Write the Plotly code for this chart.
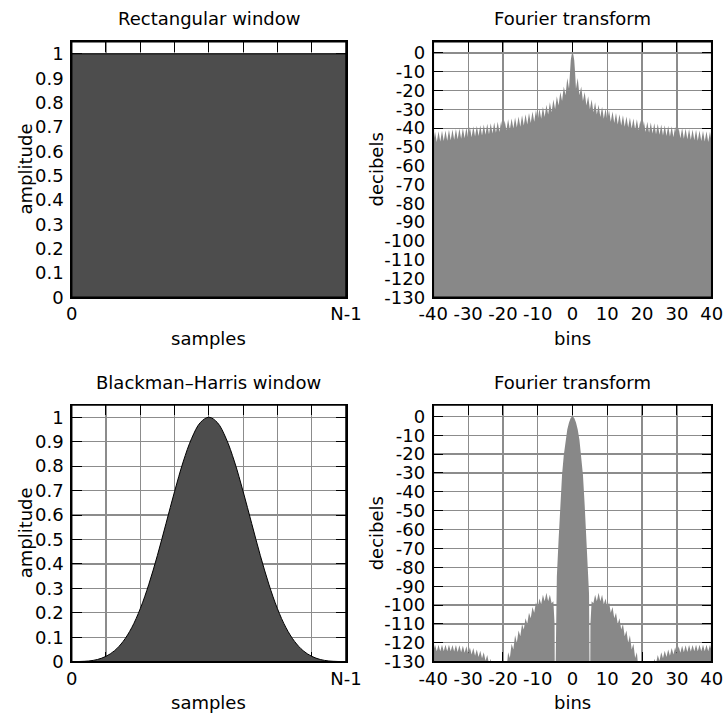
import plotly.graph_objects as go

# ---------------- data ----------------
# window sample positions as a fraction of (N-1)
RECT_SAMPLES = [0.0, 1.0]
RECT_AMPLITUDE = [1.0, 1.0]

BH_SAMPLES = [k / 32 for k in range(33)]
BH_AMPLITUDE = [0.000, 0.001, 0.003, 0.009, 0.022, 0.045, 0.083, 0.139, 0.217,
                0.317, 0.435, 0.565, 0.696, 0.817, 0.914, 0.978, 1.000, 0.978,
                0.914, 0.817, 0.696, 0.565, 0.435, 0.317, 0.217, 0.139, 0.083,
                0.045, 0.022, 0.009, 0.003, 0.001, 0.000]

# Rectangular window spectrum (positive half, mirrored for negative bins)
RECT_MAIN_BINS = [0.0, 0.25, 0.5, 0.75]
RECT_MAIN_DB = [0.0, -0.9, -3.9, -10.5]
RECT_NULL_BINS = list(range(1, 41))
RECT_NULL_DB = [-19.0, -22.5, -25.5, -28.0, -30.0, -31.5, -32.8, -34.0, -35.0, -35.8,
                -36.6, -37.3, -38.0, -38.6, -39.2, -39.7, -40.2, -40.7, -41.1, -41.6,
                -42.0, -42.4, -42.8, -43.2, -43.5, -43.9, -44.2, -44.5, -44.8, -45.1,
                -45.4, -45.7, -45.9, -46.2, -46.4, -46.7, -46.9, -47.1, -47.4, -47.6]
RECT_PEAK_BINS = [k + 0.5 for k in range(1, 40)]
RECT_PEAK_DB = [-13.3, -17.9, -20.8, -23.0, -24.8, -26.2, -27.5, -28.6, -29.5, -30.4,
                -31.2, -31.9, -32.6, -33.2, -33.8, -34.3, -34.8, -35.3, -35.8, -36.2,
                -36.6, -37.0, -37.4, -37.7, -38.1, -38.4, -38.7, -39.0, -39.3, -39.6,
                -39.9, -40.2, -40.4, -40.7, -40.9, -41.2, -41.4, -41.6, -41.9]

# Blackman-Harris spectrum (positive half)
BH_MAIN_BINS = [0.0, 0.5, 1.0, 1.5, 2.0, 2.5, 3.0, 3.5, 4.0, 4.5, 4.75, 4.9, 5.05, 5.15]
BH_MAIN_DB = [0.0, -0.9, -3.3, -7.0, -12.5, -20.5, -31.0, -47.0, -65.5, -85.0, -94.0,
              -135.0, -160.0, -110.0]
BH_SIDE_PEAK_BINS = [k + 0.5 for k in range(5, 19)]
BH_SIDE_PEAK_DB = [-98.0, -94.5, -93.5, -94.5, -96.5, -98.5, -101.0, -104.0, -107.0,
                   -110.0, -113.5, -116.0, -120.5, -125.0]
BH_SIDE_NULL_BINS = list(range(6, 19))
BH_SIDE_NULL_DB = [-99.0, -98.0, -98.0, -99.5, -101.5, -104.0, -107.0, -110.0, -113.0,
                   -116.5, -120.0, -123.5, -128.0]
BH_GAP_BINS = [19.0, 19.2, 23.0, 23.1]
BH_GAP_DB = [-135.0, -160.0, -160.0, -135.0]
BH_OUTER_PEAK_BINS = [k + 0.5 for k in range(23, 40)]
BH_OUTER_PEAK_DB = [-128.5, -126.5, -125.0, -124.2, -123.5, -122.8, -122.3, -121.8, -121.5,
                    -121.3, -121.2, -121.1, -121.0, -121.0, -121.0, -121.0, -121.0]
BH_OUTER_NULL_BINS = list(range(24, 41))
BH_OUTER_NULL_DB = [-131.0, -129.5, -128.2, -127.5, -126.8, -126.2, -125.7, -125.3, -125.0,
                    -124.8, -124.6, -124.5, -124.4, -124.4, -124.4, -124.4, -124.4]

AMP_TICKS = [0, 0.1, 0.2, 0.3, 0.4, 0.5, 0.6, 0.7, 0.8, 0.9, 1]
AMP_LABELS = ["0", "0.1", "0.2", "0.3", "0.4", "0.5", "0.6", "0.7", "0.8", "0.9", "1"]
SAMPLE_TICKS = [k / 8 for k in range(9)]
SAMPLE_LABELS = ["0", "", "", "", "", "", "", "", "N-1"]
DB_TICKS = [0, -10, -20, -30, -40, -50, -60, -70, -80, -90, -100, -110, -120, -130]
DB_LABELS = ["0", "-10", "-20", "-30", "-40", "-50", "-60", "-70", "-80", "-90",
             "-100", "-110", "-120", "-130"]
BIN_TICKS = [-40, -30, -20, -10, 0, 10, 20, 30, 40]
BIN_LABELS = ["-40", "-30", "-20", "-10", "0", "10", "20", "30", "40"]

TITLES = ["Rectangular window", "Fourier transform",
          "Blackman\u2013Harris window", "Fourier transform"]

# ---------------- helpers ----------------
def merge(*pairs):
    pts = []
    for bins, dbs in pairs:
        pts.extend(zip(bins, dbs))
    pts.sort(key=lambda p: p[0])
    return [p[0] for p in pts], [p[1] for p in pts]


def mirror(xs, ys):
    fx = [-x for x in reversed(xs[1:])] + xs
    fy = list(reversed(ys[1:])) + ys
    return fx, fy


def polygon(fx, fy, floor=-300):
    return fx + [fx[-1], fx[0]], fy + [floor, floor]


rx, ry = mirror(*merge((RECT_MAIN_BINS, RECT_MAIN_DB), (RECT_NULL_BINS, RECT_NULL_DB),
                       (RECT_PEAK_BINS, RECT_PEAK_DB)))
bx, by = mirror(*merge((BH_MAIN_BINS, BH_MAIN_DB), (BH_SIDE_PEAK_BINS, BH_SIDE_PEAK_DB),
                       (BH_SIDE_NULL_BINS, BH_SIDE_NULL_DB), (BH_GAP_BINS, BH_GAP_DB),
                       (BH_OUTER_PEAK_BINS, BH_OUTER_PEAK_DB),
                       (BH_OUTER_NULL_BINS, BH_OUTER_NULL_DB)))

DARK = "#4d4d4d"
MID = "#888888"
GRID = "#8c8c8c"
FONT = "DejaVu Sans"

fig = go.Figure()

fig.add_trace(go.Scatter(x=RECT_SAMPLES, y=RECT_AMPLITUDE, mode="lines", fill="tozeroy",
                         fillcolor=DARK, line=dict(color="black", width=1),
                         xaxis="x", yaxis="y", hoverinfo="skip"))
px, py = polygon(rx, ry)
fig.add_trace(go.Scatter(x=px, y=py, mode="lines", fill="toself", fillcolor=MID,
                         line=dict(width=0, color=MID), xaxis="x2", yaxis="y2",
                         hoverinfo="skip"))
fig.add_trace(go.Scatter(x=BH_SAMPLES, y=BH_AMPLITUDE, mode="lines", fill="tozeroy",
                         fillcolor=DARK, line=dict(color="black", width=1, shape="spline"),
                         xaxis="x3", yaxis="y3", hoverinfo="skip"))
qx, qy = polygon(bx, by)
fig.add_trace(go.Scatter(x=qx, y=qy, mode="lines", fill="toself", fillcolor=MID,
                         line=dict(width=0, color=MID), xaxis="x4", yaxis="y4",
                         hoverinfo="skip"))

W, H = 724, 716


def fx_(p):
    return p / W


def fy_(p):
    return 1 - p / H


XL = [fx_(71.7), fx_(346)]
XR = [fx_(433.3), fx_(711.7)]
YT = [fy_(297.3), fy_(41.7)]
YB = [fy_(661.7), fy_(405)]

common = dict(showline=True, linecolor="black", linewidth=1.5, mirror="ticks",
              ticks="inside", ticklen=10, tickwidth=1, tickcolor="black",
              showgrid=True, gridcolor=GRID, gridwidth=1.2, zeroline=False,
              layer="below traces", fixedrange=True, automargin=False,
              tickfont=dict(family=FONT, size=18, color="black"))


def ax(**kw):
    d = dict(common)
    d.update(kw)
    return d


fig.update_layout(
    width=W, height=H, margin=dict(l=0, r=0, t=0, b=0, autoexpand=False),
    paper_bgcolor="white", plot_bgcolor="white", showlegend=False,
    xaxis=ax(domain=XL, anchor="y", range=[0, 1], tickmode="array",
             tickvals=SAMPLE_TICKS, ticktext=SAMPLE_LABELS),
    yaxis=ax(domain=YT, anchor="x", range=[0, 1.05], tickmode="array",
             tickvals=AMP_TICKS, ticktext=AMP_LABELS, ticklabelstandoff=3),
    xaxis2=ax(domain=XR, anchor="y2", range=[-40, 40], tickmode="array",
              tickvals=BIN_TICKS, ticktext=BIN_LABELS),
    yaxis2=ax(domain=YT, anchor="x2", range=[-130, 6], tickmode="array",
              tickvals=DB_TICKS, ticktext=DB_LABELS, ticklabelstandoff=3),
    xaxis3=ax(domain=XL, anchor="y3", range=[0, 1], tickmode="array",
              tickvals=SAMPLE_TICKS, ticktext=SAMPLE_LABELS),
    yaxis3=ax(domain=YB, anchor="x3", range=[0, 1.05], tickmode="array",
              tickvals=AMP_TICKS, ticktext=AMP_LABELS, ticklabelstandoff=3),
    xaxis4=ax(domain=XR, anchor="y4", range=[-40, 40], tickmode="array",
              tickvals=BIN_TICKS, ticktext=BIN_LABELS),
    yaxis4=ax(domain=YB, anchor="x4", range=[-130, 6], tickmode="array",
              tickvals=DB_TICKS, ticktext=DB_LABELS, ticklabelstandoff=3),
)

# frames on top of the fills
for xr, yr in [("x", "y"), ("x2", "y2"), ("x3", "y3"), ("x4", "y4")]:
    fig.add_shape(type="rect", xref=f"{xr} domain", yref=f"{yr} domain",
                  x0=0, x1=1, y0=0, y1=1, line=dict(color="black", width=1.5),
                  layer="above")


def note(text, px_x, px_y, angle=0):
    fig.add_annotation(text=text, x=fx_(px_x), y=fy_(px_y), xref="paper", yref="paper",
                       xanchor="center", yanchor="middle", showarrow=False,
                       textangle=angle, font=dict(family=FONT, size=18, color="black"))


cxl = (71.7 + 346) / 2
cxr = (433.3 + 711.7) / 2
cyt = (41.7 + 297.3) / 2
cyb = (405 + 661.7) / 2
note(TITLES[0], cxl, 18)
note(TITLES[1], cxr, 18)
note(TITLES[2], cxl, 382)
note(TITLES[3], cxr, 382)
note("samples", cxl, 338)
note("bins", cxr, 338)
note("samples", cxl, 702)
note("bins", cxr, 702)
note("amplitude", 25, cyt, -90)
note("decibels", 376, cyt, -90)
note("amplitude", 25, cyb, -90)
note("decibels", 376, cyb, -90)

fig.write_html("out.html",
               config={"displayModeBar": False, "staticPlot": True},
               post_script="document.body.style.margin='0';"
                           "document.body.style.overflow='hidden';")
